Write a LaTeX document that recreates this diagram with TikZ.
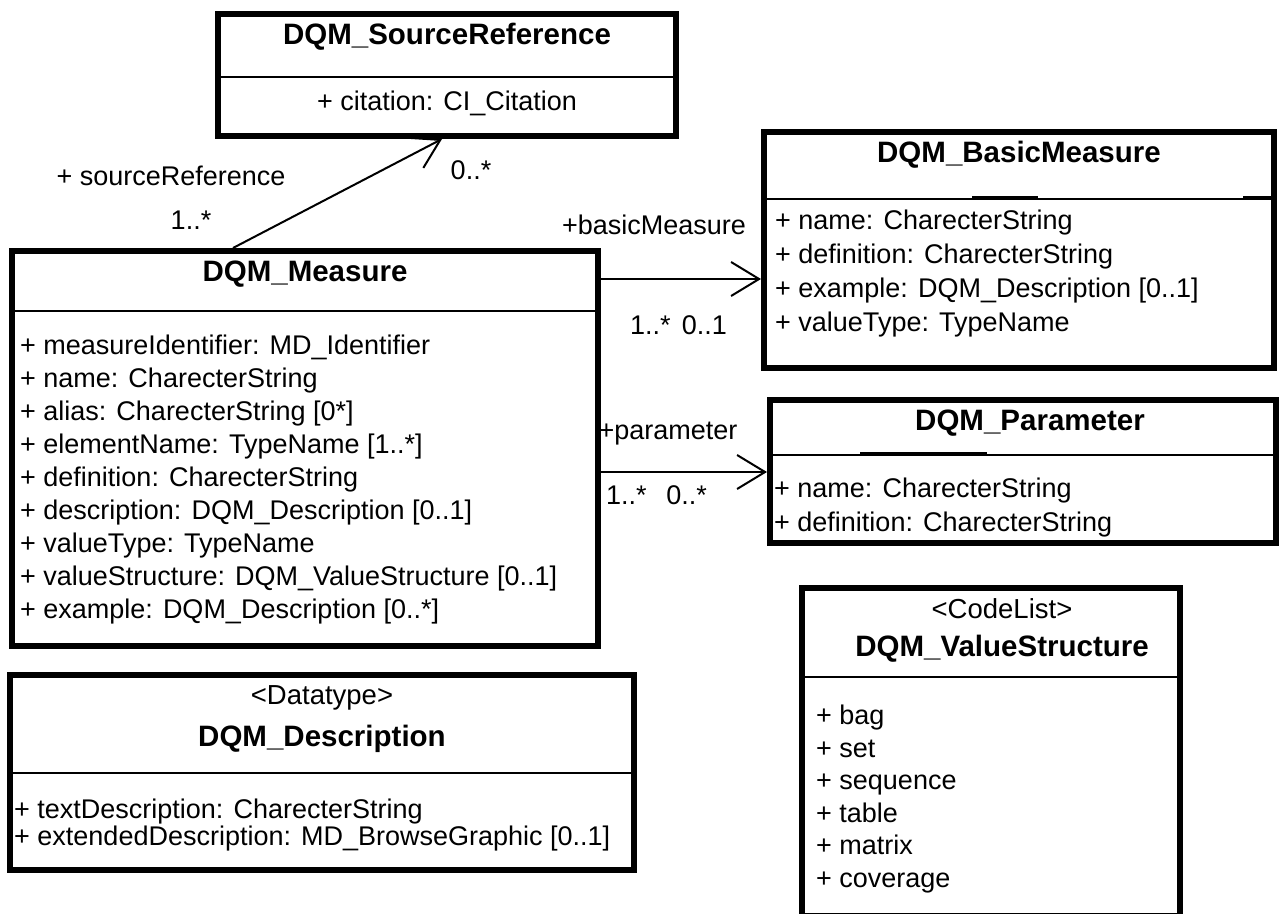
\documentclass[tikz,border=0pt]{standalone}
\usepackage{fontspec}
\setmainfont{Liberation Sans}
\usetikzlibrary{arrows.meta}
\begin{document}
\begin{tikzpicture}[x=1pt,y=-1pt,
  classbox/.style={draw, line width=6pt, inner sep=0pt},
  divider/.style={line width=2pt},
  artifact/.style={line width=4pt},
  ttl/.style={font=\fontsize{29.5}{34}\selectfont\bfseries, inner sep=0pt, text height=21pt, text depth=6pt},
  stereo/.style={font=\fontsize{27.5}{33}\selectfont, inner sep=0pt, text height=20pt, text depth=6pt},
  attr/.style={font=\fontsize{27}{33}\selectfont, inner sep=0pt, anchor=west, text height=19.5pt, text depth=5.5pt},
  lbl/.style={font=\fontsize{27}{33}\selectfont, inner sep=0pt, text height=19.5pt, text depth=5.5pt},
  assoc/.style={line width=2pt, -{Straight Barb[length=28pt,width=34pt]}}]
\useasboundingbox (0,0) rectangle (1281,913);

% ---------------- DQM_SourceReference
\node[classbox, minimum width=458pt, minimum height=122pt] (src) at (447,75) {};
\draw[divider] (src.west |- 0,77) -- (src.east |- 0,77);
\node[ttl] (srcT) at (447,37) {DQM\_SourceReference};
\node[lbl] (srcA1) at (447,103) {+ citation: CI\_Citation};

% ---------------- DQM_BasicMeasure
\node[classbox, minimum width=510pt, minimum height=236pt] (basic) at (1019,250) {};
\draw[divider] (basic.west |- 0,199) -- (basic.east |- 0,199);
\draw[artifact] (972,198) -- (1038,198);
\draw[artifact] (1243,198) -- (1274,198);
\node[ttl] (basicT) at (1019,155) {DQM\_BasicMeasure};
\node[attr] (basicA1) at (775,222) {+ name: CharecterString};
\node[attr] (basicA2) at (775,256) {+ definition: CharecterString};
\node[attr] (basicA3) at (775,290) {+ example: DQM\_Description [0..1]};
\node[attr] (basicA4) at (775,324) {+ valueType: TypeName};

% ---------------- DQM_Measure
\node[classbox, minimum width=586pt, minimum height=395pt] (measure) at (305,448.5) {};
\draw[divider] (measure.west |- 0,311) -- (measure.east |- 0,311);
\node[ttl] (measureT) at (305,274) {DQM\_Measure};
\node[attr] (mA1) at (20,347) {+ measureIdentifier: MD\_Identifier};
\node[attr] (mA2) at (20,380) {+ name: CharecterString};
\node[attr] (mA3) at (20,413) {+ alias: CharecterString [0*]};
\node[attr] (mA4) at (20,446) {+ elementName: TypeName [1..*]};
\node[attr] (mA5) at (20,479) {+ definition: CharecterString};
\node[attr] (mA6) at (20,512) {+ description: DQM\_Description [0..1]};
\node[attr] (mA7) at (20,545) {+ valueType: TypeName};
\node[attr] (mA8) at (20,578) {+ valueStructure: DQM\_ValueStructure [0..1]};
\node[attr] (mA9) at (20,611) {+ example: DQM\_Description [0..*]};

% ---------------- DQM_Parameter
\node[classbox, minimum width=506pt, minimum height=143pt] (param) at (1023,471.5) {};
\draw[divider] (param.west |- 0,455) -- (param.east |- 0,455);
\draw[artifact] (860,454) -- (987,454);
\node[ttl] (paramT) at (1030,423) {DQM\_Parameter};
\node[attr] (pA1) at (774,490) {+ name: CharecterString};
\node[attr] (pA2) at (774,524) {+ definition: CharecterString};

% ---------------- DQM_Description
\node[classbox, minimum width=624pt, minimum height=195pt] (desc) at (322,772.5) {};
\draw[divider] (desc.west |- 0,773) -- (desc.east |- 0,773);
\node[stereo] (descS) at (322,697) {<Datatype>};
\node[ttl] (descT) at (322,739) {DQM\_Description};
\node[attr] (dA1) at (14,811) {+ textDescription: CharecterString};
\node[attr] (dA2) at (14,838) {+ extendedDescription: MD\_BrowseGraphic [0..1]};

% ---------------- DQM_ValueStructure
\node[classbox, minimum width=378pt, minimum height=328pt] (vs) at (991,752) {};
\draw[divider] (vs.west |- 0,677) -- (vs.east |- 0,677);
\node[stereo] (vsS) at (1002,611) {<CodeList>};
\node[ttl] (vsT) at (1002,649) {DQM\_ValueStructure};
\node[attr] (vA1) at (816,717) {+ bag};
\node[attr] (vA2) at (816,750) {+ set};
\node[attr] (vA3) at (816,782) {+ sequence};
\node[attr] (vA4) at (816,815) {+ table};
\node[attr] (vA5) at (816,847) {+ matrix};
\node[attr] (vA6) at (816,880) {+ coverage};

% ---------------- associations
\coordinate (mSrc) at (measure.north west -| 233,0);
\coordinate (srcEnd) at (src.south west -| 442,0);
\draw[assoc] (mSrc) -- (srcEnd);
\node[lbl] (srcRole) at (171,178) {+ sourceReference};
\node[lbl] (srcM1) at (191,222) {1..*};
\node[lbl] (srcM2) at (471,172) {0..*};

\coordinate (mBasic) at (measure.east |- 0,279);
\coordinate (basicEnd) at (basic.west |- 0,279);
\draw[assoc] (mBasic) -- (basicEnd);
\node[lbl] (basicRole) at (654,227) {+basicMeasure};
\node[lbl, anchor=west] (basicM1) at (630,327) {1..*};
\node[lbl, anchor=east] (basicM2) at (727,327) {0..1};

\coordinate (mParam) at (measure.east |- 0,472);
\coordinate (paramEnd) at (param.west |- 0,472);
\draw[assoc] (mParam) -- (paramEnd);
\node[lbl] (paramRole) at (668,432) {+parameter};
\node[lbl, anchor=west] (paramM1) at (606,497) {1..*};
\node[lbl, anchor=east] (paramM2) at (707,497) {0..*};
\end{tikzpicture}
\end{document}
